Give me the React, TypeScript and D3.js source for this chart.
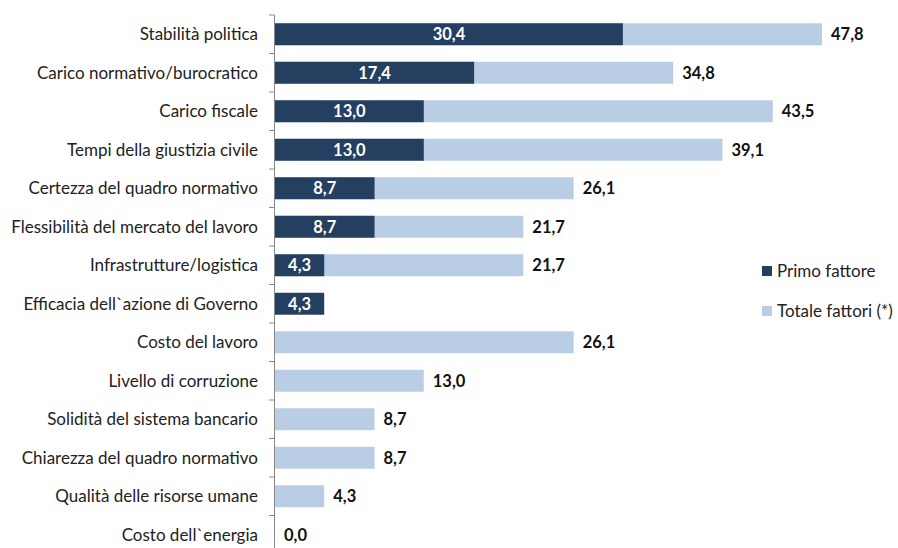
import React from "react";
import * as d3 from "d3";

const categories = [
  "Stabilità politica",
  "Carico normativo/burocratico",
  "Carico fiscale",
  "Tempi della giustizia civile",
  "Certezza del quadro normativo",
  "Flessibilità del mercato del lavoro",
  "Infrastrutture/logistica",
  "Efficacia dell`azione di Governo",
  "Costo del lavoro",
  "Livello di corruzione",
  "Solidità del sistema bancario",
  "Chiarezza del quadro normativo",
  "Qualità delle risorse umane",
  "Costo dell`energia",
];
const primo: (number | null)[] = [30.4, 17.4, 13.0, 13.0, 8.7, 8.7, 4.3, 4.3, null, null, null, null, null, null];
const totale: (number | null)[] = [47.8, 34.8, 43.5, 39.1, 26.1, 21.7, 21.7, null, 26.1, 13.0, 8.7, 8.7, 4.3, 0.0];
const seriesNames = ["Primo fattore", "Totale fattori (*)"];

const W = 898;
const H = 548;
const FONT = "Lato, 'Open Sans', sans-serif";
const DARK = "#243F60";
const LIGHT = "#B9CDE5";

const fmt = (v: number) => v.toFixed(1).replace(".", ",");

export default function App() {
  const x = d3.scaleLinear().domain([0, 47.8]).range([275, 822]);
  const y = d3.scaleBand().domain(categories).range([15, 554]).paddingInner(0.43).paddingOuter(0.215);
  const step = y.step();
  const bh = y.bandwidth();
  return (
    <svg width={W} height={H} style={{ position: "absolute", left: 0, top: 0, background: "#fff" }} fontFamily={FONT}>
      {categories.map((c, i) => {
        const yy = y(c)!;
        const t = totale[i];
        const p = primo[i];
        return (
          <g key={c}>
            {t !== null && t > 0 && (
              <rect x={x(0)} y={yy} width={x(t) - x(0)} height={bh} fill={LIGHT} />
            )}
            {p !== null && (
              <rect x={x(0)} y={yy} width={x(p) - x(0)} height={bh} fill={DARK} />
            )}
            {p !== null && (
              <text x={(x(0) + x(p)) / 2} y={yy + bh / 2} dy="0.35em" textAnchor="middle" fill="#fff" fontWeight="bold" fontSize={16.5}>
                {fmt(p)}
              </text>
            )}
            {t !== null && (
              <text x={x(t) + 9} y={yy + bh / 2} dy="0.35em" fill="#111" fontWeight="bold" fontSize={16.5}>
                {fmt(t)}
              </text>
            )}
            <text x={258} y={yy + bh / 2} dy="0.35em" textAnchor="end" fill="#222" fontSize={17}>
              {c}
            </text>
          </g>
        );
      })}
      <line x1={274.5} x2={274.5} y1={15} y2={H} stroke="#888" strokeWidth={1} />
      {d3.range(categories.length + 1).map((i) => (
        <line key={i} x1={269} x2={274.5} y1={15 + i * step} y2={15 + i * step} stroke="#888" strokeWidth={1} />
      ))}
      {seriesNames.map((s, i) => (
        <g key={s} transform={`translate(762, ${266 + i * 40})`}>
          <rect x={0} y={0} width={10} height={10} fill={i === 0 ? DARK : LIGHT} />
          <text x={15} y={5} dy="0.35em" fontSize={17} fill="#222">
            {s}
          </text>
        </g>
      ))}
    </svg>
  );
}
